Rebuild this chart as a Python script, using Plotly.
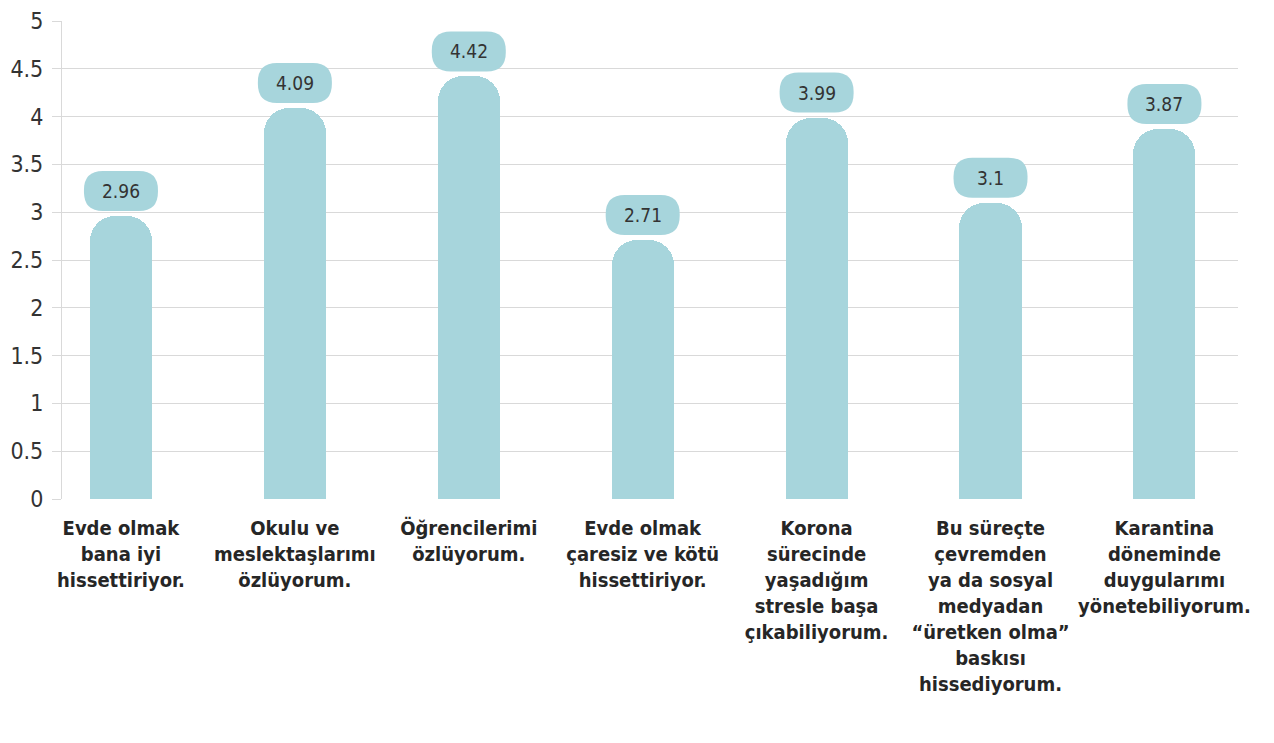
import plotly.graph_objects as go

categories = [
    "Evde olmak<br>bana iyi<br>hissettiriyor.",
    "Okulu ve<br>meslektaşlarımı<br>özlüyorum.",
    "Öğrencilerimi<br>özlüyorum.",
    "Evde olmak<br>çaresiz ve kötü<br>hissettiriyor.",
    "Korona<br>sürecinde<br>yaşadığım<br>stresle başa<br>çıkabiliyorum.",
    "Bu süreçte<br>çevremden<br>ya da sosyal<br>medyadan<br>“üretken olma”<br>baskısı<br>hissediyorum.",
    "Karantina<br>döneminde<br>duygularımı<br>yönetebiliyorum.",
]
values = [2.96, 4.09, 4.42, 2.71, 3.99, 3.1, 3.87]
value_labels = ["2.96", "4.09", "4.42", "2.71", "3.99", "3.1", "3.87"]
y_tick_vals = [0, 0.5, 1, 1.5, 2, 2.5, 3, 3.5, 4, 4.5, 5]
y_tick_text = ["0", "0.5", "1", "1.5", "2", "2.5", "3", "3.5", "4", "4.5", "5"]

BAR = "#a7d5dc"
GRID = "#d9d9d9"
TXT = "#333333"
FONT = "DejaVu Sans Condensed, Liberation Sans Narrow, sans-serif"

x_idx = list(range(len(categories)))

fig = go.Figure()
fig.add_trace(go.Bar(
    x=x_idx, y=values, width=0.357,
    marker=dict(color=BAR, line=dict(width=0), cornerradius=25),
    hoverinfo="skip",
))


def pill_path(w=74, h=40, r=19, gap=5):
    L, R, B, T = -w / 2, w / 2, gap, gap + h
    return (f"M {L + r} {B} L {R - r} {B} Q {R} {B} {R} {B + r} "
            f"L {R} {T - r} Q {R} {T} {R - r} {T} L {L + r} {T} "
            f"Q {L} {T} {L} {T - r} L {L} {B + r} Q {L} {B} {L + r} {B} Z")


shapes = []
annotations = []
for i, v, lab in zip(x_idx, values, value_labels):
    shapes.append(dict(
        type="path", xref="x", yref="y",
        xsizemode="pixel", ysizemode="pixel",
        xanchor=i, yanchor=v, path=pill_path(),
        fillcolor=BAR, line=dict(width=0), layer="above",
    ))
    annotations.append(dict(
        x=i, y=v, xref="x", yref="y", text=lab, showarrow=False,
        yshift=25, font=dict(family=FONT, size=19, color=TXT),
    ))

fig.update_layout(
    width=1266, height=735,
    margin=dict(l=54, r=36, t=12.7, b=243.7),
    plot_bgcolor="white", paper_bgcolor="white",
    showlegend=False, bargap=0,
    shapes=shapes, annotations=annotations,
    xaxis=dict(
        range=[-0.339, 6.423], automargin=False,
        tickmode="array", tickvals=x_idx, ticktext=categories,
        tickfont=dict(family=FONT, size=20, color="#262626", weight="bold"),
        showgrid=False, zeroline=False, showline=False,
        ticks="outside", ticklen=11, tickcolor="rgba(0,0,0,0)",
        tickangle=0,
    ),
    yaxis=dict(
        range=[0, 5], automargin=False,
        tickmode="array", tickvals=y_tick_vals, ticktext=y_tick_text,
        tickfont=dict(family=FONT, size=23, color=TXT),
        showgrid=True, gridcolor=GRID, gridwidth=1.2,
        zeroline=False,
        showline=True, linecolor=GRID, linewidth=1.2,
        ticks="outside", ticklen=9, tickcolor=GRID, tickwidth=1.2,
        ticklabelstandoff=4,
    ),
)

fig.write_html("out.html")
